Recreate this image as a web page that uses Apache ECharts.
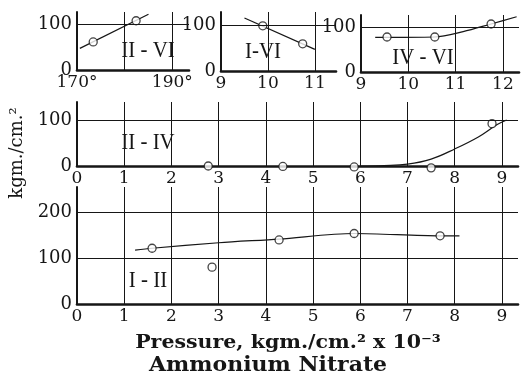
<!DOCTYPE html>
<html><head><meta charset="utf-8">
<script src="https://cdn.jsdelivr.net/npm/echarts@6/dist/echarts.min.js"></script>
<style>html,body{margin:0;padding:0;background:#fff}#c{width:522px;height:378px}</style>
</head><body><div id="c"></div>
<script>
// Panel II-VI (temperature axis, degrees)
const iiViTicks = [170, 190];
const iiViGrid = [180, 190];
const iiViPoints = [[173.4, 61], [182.4, 107]];
const iiViCurve = [[170.6, 47], [185.0, 121]];
// Panel I-VI
const iViTicks = [9, 10, 11];
const iViGrid = [10, 11];
const iViPoints = [[9.89, 98], [10.74, 59]];
const iViCurve = [[9.5, 115], [11.0, 47]];
// Panel IV-VI
const ivViTicks = [9, 10, 11, 12];
const ivViGrid = [10, 11, 12];
const ivViPoints = [[9.55, 78], [10.56, 78], [11.75, 107]];
const ivViCurve = [[9.3, 77], [10.56, 78], [11.16, 90], [11.75, 107], [12.29, 123]];
// Pressure panels (kgm./cm.^2 x 10^-3)
const pressureTicks = [0, 1, 2, 3, 4, 5, 6, 7, 8, 9];
const pressureGrid = [1, 2, 3, 4, 5, 6, 7, 8, 9];
// Panel II-IV
const iiIvPoints = [[2.78, 0], [4.36, -1], [5.87, -2], [7.5, -4], [8.79, 92]];
const iiIvCurve = [[6.0, 0], [6.5, 1], [7.0, 4], [7.5, 15], [8.0, 37], [8.5, 63], [8.9, 90], [9.1, 100]];
// Panel I-II
const iIiPoints = [[1.59, 121], [2.86, 80], [4.28, 139], [5.87, 153], [7.69, 148]];
const iIiCurve = [[1.23, 117], [1.59, 121], [3.0, 133], [4.28, 141], [5.87, 153], [7.69, 148], [8.1, 148]];
// Value ticks
const smallYTicks = [0, 100];
const largeYTicks = [0, 100, 200];

const INK = '#161616';
const NUM_FONT = 'DejaVu Serif';

const grids = [
  { left: 77, top: 12, width: 112, height: 58 },
  { left: 221, top: 12, width: 115, height: 59 },
  { left: 361, top: 15, width: 158, height: 57 },
  { left: 77, top: 102, width: 441, height: 64 },
  { left: 77, top: 187, width: 441, height: 117 }
];

function xAxis(i, min, max, ticks, fmt) {
  return {
    type: 'value', gridIndex: i, min: min, max: max,
    axisLine: { show: true, onZero: false, lineStyle: { color: INK, width: 2.6 } },
    axisTick: { show: false },
    splitLine: { show: false },
    axisLabel: {
      customValues: ticks, color: INK, fontFamily: NUM_FONT, fontSize: 17, margin: 4,
      formatter: fmt || (v => String(v))
    }
  };
}
function yAxis(i, max, ticks) {
  return {
    type: 'value', gridIndex: i, min: 0, max: max,
    axisLine: { show: true, onZero: false, lineStyle: { color: INK, width: 2 } },
    axisTick: { show: false },
    splitLine: { show: false },
    axisLabel: { customValues: ticks, color: INK, fontFamily: NUM_FONT, fontSize: 18, margin: 5 }
  };
}
function rules(hLines, vLines) {
  return {
    silent: true, symbol: ['none', 'none'], animation: false,
    label: { show: false },
    lineStyle: { color: INK, width: 1, type: 'solid' },
    emphasis: { disabled: true },
    data: hLines.map(v => ({ yAxis: v })).concat(vLines.map(v => ({ xAxis: v })))
  };
}
function curve(i, data, hLines, vLines, smooth) {
  return {
    type: 'line', xAxisIndex: i, yAxisIndex: i, data: data, smooth: smooth || 0,
    showSymbol: false, clip: false, z: 2,
    lineStyle: { color: INK, width: 1.2 },
    markLine: rules(hLines, vLines)
  };
}
function dots(i, data) {
  return {
    type: 'scatter', xAxisIndex: i, yAxisIndex: i, data: data, clip: false, z: 4,
    symbol: 'circle', symbolSize: 8,
    itemStyle: { color: '#fff', borderColor: INK, borderWidth: 1.3 }
  };
}
function tag(text, x, y) {
  return {
    type: 'text', x: x, y: y, scaleX: 0.87,
    style: { text: text, fill: INK, font: '24px "Liberation Serif"', textAlign: 'center', textVerticalAlign: 'middle' }
  };
}

const option = {
  animation: false,
  backgroundColor: '#fff',
  grid: grids,
  xAxis: [
    xAxis(0, 170, 193.5, iiViTicks, v => v + '°'),
    xAxis(1, 9, 11.45, iViTicks),
    xAxis(2, 9, 12.34, ivViTicks),
    xAxis(3, 0, 9.34, pressureTicks),
    xAxis(4, 0, 9.34, pressureTicks)
  ],
  yAxis: [
    yAxis(0, 126, smallYTicks),
    yAxis(1, 128, smallYTicks),
    yAxis(2, 127, smallYTicks),
    yAxis(3, 139, smallYTicks),
    yAxis(4, 254, largeYTicks)
  ],
  series: [
    curve(0, iiViCurve, [100], iiViGrid),
    dots(0, iiViPoints),
    curve(1, iViCurve, [100], iViGrid),
    dots(1, iViPoints),
    curve(2, ivViCurve, [100], ivViGrid, 0.3),
    dots(2, ivViPoints),
    curve(3, iiIvCurve, [100], pressureGrid, 0.4),
    dots(3, iiIvPoints),
    curve(4, iIiCurve, [100, 200], pressureGrid, 0.3),
    dots(4, iIiPoints)
  ],
  graphic: [
    tag('II - VI', 148, 51),
    tag('I-VI', 263, 52),
    tag('IV - VI', 423, 58),
    tag('II - IV', 148, 143),
    tag('I - II', 148, 281),
    {
      type: 'text', x: 17, y: 153, rotation: Math.PI / 2,
      style: { text: 'kgm./cm.²', fill: INK, font: '18px "DejaVu Serif"', textAlign: 'center', textVerticalAlign: 'middle' }
    },
    {
      type: 'text', x: 288, y: 343, scaleX: 1.08,
      style: { text: 'Pressure, kgm./cm.² x 10⁻³', fill: INK, font: 'bold 19px "DejaVu Serif"', textAlign: 'center', textVerticalAlign: 'middle' }
    },
    {
      type: 'text', x: 268, y: 366, scaleX: 1.1,
      style: { text: 'Ammonium Nitrate', fill: INK, font: 'bold 20px "DejaVu Serif"', textAlign: 'center', textVerticalAlign: 'middle' }
    }
  ]
};

echarts.init(document.getElementById('c'), null, { renderer: 'canvas' }).setOption(option);
</script>
</body></html>
